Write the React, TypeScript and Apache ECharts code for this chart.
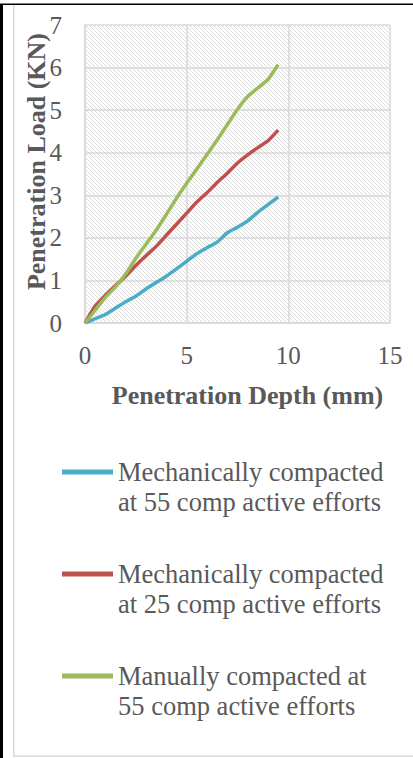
import React, { useEffect, useRef } from "react";
import * as echarts from "echarts";

const depth = [0, 0.5, 1, 1.5, 2, 2.5, 3, 3.5, 4, 4.5, 5, 5.5, 6, 6.5, 7, 7.5, 8, 8.5, 9, 9.5];
const mech55 = [0, 0.1, 0.2, 0.35, 0.5, 0.63, 0.8, 0.95, 1.1, 1.27, 1.45, 1.63, 1.77, 1.9, 2.12, 2.25, 2.4, 2.6, 2.78, 2.96];
const mech25 = [0, 0.4, 0.65, 0.88, 1.1, 1.35, 1.58, 1.8, 2.06, 2.32, 2.58, 2.84, 3.06, 3.3, 3.52, 3.76, 3.95, 4.12, 4.28, 4.53];
const manual55 = [0, 0.3, 0.6, 0.85, 1.15, 1.52, 1.85, 2.18, 2.55, 2.93, 3.28, 3.62, 3.96, 4.3, 4.66, 5.02, 5.32, 5.52, 5.72, 6.07];

const seriesNames = [
  "Mechanically compacted at 55 comp active efforts",
  "Mechanically compacted at 25 comp active efforts",
  "Manually compacted at 55 comp active efforts",
];
const legendLines = [
  ["Mechanically compacted", "at 55 comp active efforts"],
  ["Mechanically compacted", "at 25 comp active efforts"],
  ["Manually compacted at", "55 comp active efforts"],
];
const colors = ["#4BACC6", "#C0504D", "#9BBB59"];
const xTitle = "Penetration Depth (mm)";
const yTitle = "Penetration Load (KN)";

const FONT = "'Liberation Serif', 'Times New Roman', serif";
const TEXT = "#595959";

export default function App() {
  const ref = useRef<HTMLDivElement>(null);
  useEffect(() => {
    document.body.style.margin = "0";
    if (!ref.current) return;
    const chart = echarts.init(ref.current, undefined, { renderer: "svg" });

    const cv = document.createElement("canvas");
    cv.width = 4;
    cv.height = 4;
    const ctx = cv.getContext("2d")!;
    ctx.fillStyle = "#ffffff";
    ctx.fillRect(0, 0, 4, 4);
    ctx.fillStyle = "#dcdcdc";
    for (let i = 0; i < 4; i++) ctx.fillRect(i, i, 1, 1);

    const dataSets = [mech55, mech25, manual55];

    chart.setOption({
      animation: false,
      grid: {
        show: true,
        left: 85,
        top: 25,
        width: 305,
        height: 298,
        borderWidth: 0,
        backgroundColor: { image: cv, repeat: "repeat", imageWidth: 4, imageHeight: 4 } as any,
      },
      xAxis: {
        type: "value",
        min: 0,
        max: 15,
        interval: 5,
        axisLine: { show: true, lineStyle: { color: "#d9d9d9", width: 1.5 } },
        axisTick: { show: false },
        splitLine: { show: true, lineStyle: { color: "#d9d9d9", width: 1.5 } },
        axisLabel: { color: TEXT, fontFamily: FONT, fontSize: 25, margin: 20 },
      },
      yAxis: {
        type: "value",
        min: 0,
        max: 7,
        interval: 1,
        axisLine: { show: true, lineStyle: { color: "#d9d9d9", width: 1.5 } },
        axisTick: { show: false },
        splitLine: { show: true, lineStyle: { color: "#d9d9d9", width: 1.5 } },
        axisLabel: { color: TEXT, fontFamily: FONT, fontSize: 25, margin: 23 },
      },
      legend: {
        orient: "vertical",
        left: 62,
        top: 427,
        padding: 0,
        itemWidth: 51,
        itemHeight: 5,
        itemGap: 12,
        icon: "rect",
        data: seriesNames,
        formatter: (name: string) => "\n" + legendLines[seriesNames.indexOf(name)].join("\n"),
        textStyle: {
          color: TEXT,
          fontFamily: FONT,
          fontSize: 26.5,
          lineHeight: 30,
        },
      },
      series: seriesNames.map((n, i) => ({
        name: n,
        type: "line",
        showSymbol: false,
        symbol: "none",
        smooth: 0.15,
        color: colors[i],
        lineStyle: { width: 3.5, color: colors[i] },
        data: depth.map((d, k) => [d, dataSets[i][k]]),
      })),
      graphic: [
        { type: "rect", shape: { x: 0, y: 4, width: 3, height: 754 }, style: { fill: "#000" } },
        { type: "rect", shape: { x: 0, y: 3.5, width: 413, height: 1.5 }, style: { fill: "#000" } },
        { type: "rect", shape: { x: 13, y: 5, width: 1.5, height: 752 }, style: { fill: "#d9d9d9" } },
        { type: "rect", shape: { x: 13, y: 755.5, width: 400, height: 1.5 }, style: { fill: "#d9d9d9" } },
        {
          type: "text",
          x: 247.5,
          y: 395,
          style: {
            text: xTitle,
            fill: TEXT,
            font: `bold 26px ${FONT}`,
            textAlign: "center",
            textVerticalAlign: "middle",
          },
        },
        {
          type: "text",
          x: 36,
          y: 161.5,
          rotation: Math.PI / 2,
          style: {
            text: yTitle,
            fill: TEXT,
            font: `bold 26px ${FONT}`,
            textAlign: "center",
            textVerticalAlign: "middle",
          },
        },
      ],
    });
    return () => chart.dispose();
  }, []);
  return <div ref={ref} style={{ width: 413, height: 758 }} />;
}
